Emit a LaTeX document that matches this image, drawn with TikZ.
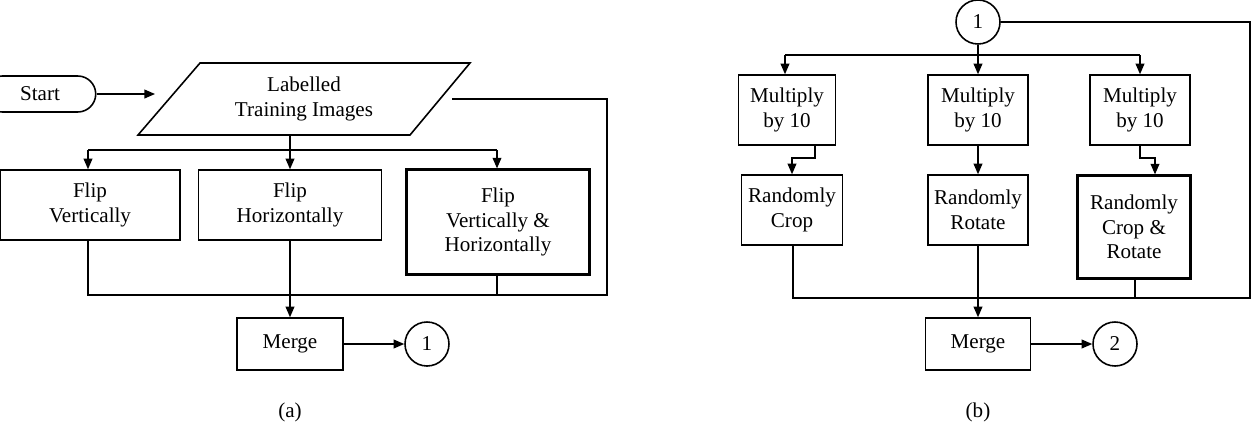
\documentclass[tikz,border=0pt]{standalone}
\usepackage{fontspec}
\setmainfont{Liberation Serif}
\usetikzlibrary{arrows.meta,shapes.misc}
\begin{document}
\begin{tikzpicture}[x=0.02cm,y=-0.02cm,
  ln/.style={line width=0.7pt},
  ar/.style={ln,-{Triangle[length=6pt,width=5pt]}},
  box/.style={draw,line width=0.9pt,align=center,inner sep=1pt,font=\fontsize{12}{14}\selectfont},
  thick box/.style={box,line width=1.3pt},
  circ/.style={draw,circle,line width=0.9pt,minimum size=0.88cm,inner sep=0pt,font=\fontsize{12}{14}\selectfont},
  lab/.style={font=\fontsize{12}{14}\selectfont}]
\useasboundingbox (0,0) rectangle (1260,444);
% ---------- (a)
\node[box,rounded rectangle,minimum width=2.3cm,minimum height=0.72cm] (start) at (40,94) {Start};
\draw[line width=0.9pt] (200,63) -- (470,63) -- (410,135) -- (138,135) -- cycle;
\node[lab,align=center] (lti) at (304,99) {Labelled\\Training Images};
\coordinate (pl) at (155,94);
\coordinate (pr) at (452,99);
\coordinate (pb) at (290,135);
\node[box,minimum width=3.6cm,minimum height=1.4cm] (fv) at (90,205) {Flip\\Vertically};
\node[box,minimum width=3.66cm,minimum height=1.4cm] (fh) at (290,205) {Flip\\Horizontally};
\node[thick box,minimum width=3.66cm,minimum height=2.1cm] (fvh) at (498,222) {Flip\\Vertically \&\\Horizontally};
\node[box,minimum width=2.12cm,minimum height=1.04cm] (m1) at (290,344) {Merge};
\node[circ] (c1) at (427,344) {1};
\draw[ar] (start.east) -- (pl);
\draw[ln] (pb) -- (290,150);
\draw[ln] (88,150) -- (497,150);
\draw[ar] (88,150) -- (88,0 |- fv.north);
\draw[ar] (290,150) -- (fh.north);
\draw[ar] (497,150) -- (497,0 |- fvh.north);
\draw[ln] (88,0 |- fv.south) -- (88,295) -- (607,295) -- (607,99) -- (pr);
\draw[ln] (497,0 |- fvh.south) -- (497,295);
\draw[ar] (fh.south) -- (m1.north);
\draw[ar] (m1.east) -- (c1.west);
\node[lab] (la) at (290,412) {(a)};
% ---------- (b)
\node[circ] (c1b) at (978,22) {1};
\node[box,minimum width=1.94cm,minimum height=1.4cm] (mu1) at (787,110) {Multiply\\by 10};
\node[box,minimum width=2cm,minimum height=1.4cm] (mu2) at (978,110) {Multiply\\by 10};
\node[box,minimum width=2cm,minimum height=1.4cm] (mu3) at (1140,110) {Multiply\\by 10};
\node[box,minimum width=2.02cm,minimum height=1.4cm] (rc) at (792,210) {Randomly\\Crop};
\node[box,minimum width=2cm,minimum height=1.4cm] (rr) at (978,210) {Randomly\\Rotate};
\node[thick box,minimum width=2.26cm,minimum height=2.06cm] (rcr) at (1134,227) {Randomly\\Crop \&\\Rotate};
\node[box,minimum width=2.1cm,minimum height=1.04cm] (m2) at (978,344) {Merge};
\node[circ] (c2) at (1115,344) {2};
\draw[ln] (c1b.south) -- (978,55);
\draw[ln] (785,55) -- (1140,55);
\draw[ar] (785,55) -- (785,0 |- mu1.north);
\draw[ar] (978,55) -- (mu2.north);
\draw[ar] (1140,55) -- (1140,0 |- mu3.north);
\draw[ln] (c1b.east) -- (1250,22) -- (1250,298) -- (793,298) -- (793,0 |- rc.south);
\draw[ar] (815,145) -- (815,158) -- (792,158) -- (rc.north);
\draw[ar] (mu2.south) -- (rr.north);
\draw[ar] (1140,145) -- (1140,158) -- (1155,158) -- (1155,0 |- rcr.north);
\draw[ln] (1135,0 |- rcr.south) -- (1135,298);
\draw[ar] (rr.south) -- (m2.north);
\draw[ar] (m2.east) -- (c2.west);
\node[lab] (lb) at (978,412) {(b)};
\end{tikzpicture}
\end{document}
